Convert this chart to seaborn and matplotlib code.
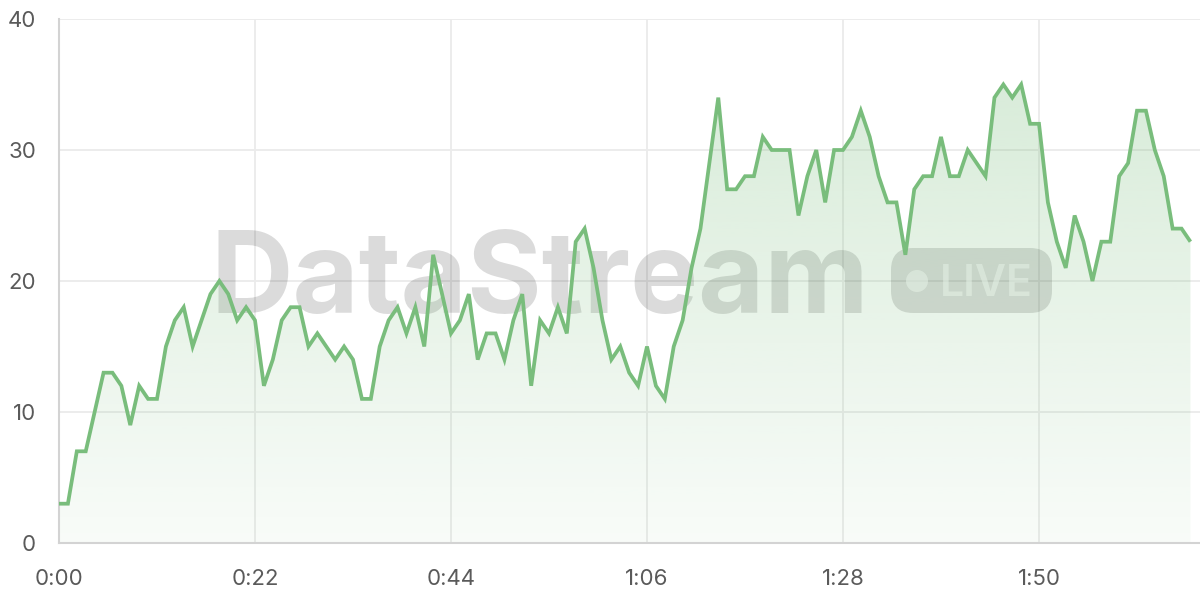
import numpy as np
import pandas as pd
import seaborn as sns
import matplotlib
matplotlib.use("Agg")
import matplotlib.pyplot as plt
from matplotlib.patches import FancyBboxPatch, Circle
from matplotlib.transforms import IdentityTransform
from matplotlib.colors import to_rgb

# ---------------- data ----------------
values = [3, 3, 7, 7, 10, 13, 13, 12, 9, 12, 11, 11, 15, 17, 18, 15, 17, 19, 20, 19,
          17, 18, 17, 12, 14, 17, 18, 18, 15, 16, 15, 14, 15, 14, 11, 11, 15, 17, 18, 16,
          18, 15, 22, 19, 16, 17, 19, 14, 16, 16, 14, 17, 19, 12, 17, 16, 18, 16, 23, 24,
          21, 17, 14, 15, 13, 12, 15, 12, 11, 15, 17, 21, 24, 29, 34, 27, 27, 28, 28, 31,
          30, 30, 30, 25, 28, 30, 26, 30, 30, 31, 33, 31, 28, 26, 26, 22, 27, 28, 28, 31,
          28, 28, 30, 29, 28, 34, 35, 34, 35, 32, 32, 26, 23, 21, 25, 23, 20, 23, 23, 28,
          29, 33, 33, 30, 28, 24, 24, 23]
seconds = list(range(len(values)))
x_ticks = [0, 22, 44, 66, 88, 110]
x_tick_labels = ["0:00", "0:22", "0:44", "1:06", "1:28", "1:50"]
y_ticks = [0, 10, 20, 30, 40]
y_tick_labels = ["0", "10", "20", "30", "40"]
watermark_text = "DataStream"
badge_text = "LIVE"

df = pd.DataFrame({"second": seconds, "value": values})

# ---------------- style ----------------
sns.set_theme(style="white")
plt.rcParams['font.family'] = ['Inter', 'DejaVu Sans']

LINE = "#79bd7c"
GRID = "#ebebeb"
AXIS = "#d3d3d3"
TICKTXT = "#5a5a5a"

W, H = 1200, 600
fig = plt.figure(figsize=(12, 6), dpi=100)
fig.patch.set_facecolor("white")
L, R, T, B = 59, 1200, 19, 543
ax = fig.add_axes([L / W, (H - B) / H, (R - L) / W, (B - T) / H])
ax.set_facecolor("white")

px_per_s = (1039 - 59) / 110.0
ax.set_xlim(0, (R - L) / px_per_s)
ax.set_ylim(0, 40)

# grid / spines / ticks
ax.set_axisbelow(True)
ax.grid(True, color=GRID, lw=1.3)
for s in ["top", "right"]:
    ax.spines[s].set_visible(False)
for s in ["left", "bottom"]:
    ax.spines[s].set_color(AXIS)
    ax.spines[s].set_linewidth(1.5)
ax.set_xticks(x_ticks)
ax.set_xticklabels(x_tick_labels)
ax.set_yticks(y_ticks)
ax.set_yticklabels(y_tick_labels)
ax.tick_params(axis="both", length=11.5, width=1.3, color=GRID,
               labelcolor=TICKTXT, labelsize=16)
ax.tick_params(axis="x", pad=7)
ax.tick_params(axis="y", pad=5)

# ---------------- watermark ----------------
ident = IdentityTransform()
wm = ax.text(210, H - 313, watermark_text, transform=ident, fontsize=80,
             fontweight="bold", color="black", alpha=0.14, ha="left",
             va="baseline", zorder=1, clip_on=False)
fig.canvas.draw()
bb = wm.get_window_extent()
wm.set_fontsize(80 * 660 / bb.width)

badge = FancyBboxPatch((891, H - 313), 161, 65,
                       boxstyle="round,pad=0,rounding_size=22",
                       transform=ident, facecolor="black", edgecolor="none",
                       alpha=0.14, zorder=1, clip_on=False)
ax.add_artist(badge)
dot = Circle((917, H - 281), 11, transform=ident, facecolor="white",
             edgecolor="none", alpha=0.55, zorder=1.1, clip_on=False)
ax.add_artist(dot)
lv = ax.text(940, H - 296, badge_text, transform=ident, fontsize=32,
             fontweight="semibold", color="white", alpha=0.55, ha="left",
             va="baseline", zorder=1.1, clip_on=False)
fig.canvas.draw()
bb = lv.get_window_extent()
lv.set_fontsize(32 * 93 / bb.width)

# ---------------- gradient fill ----------------
poly = ax.fill_between(df["second"], df["value"], 0, facecolor="none",
                       edgecolor="none", zorder=2)
rgb = np.array(to_rgb(LINE))
alphas = np.linspace(0.05, 0.32, 256)
grad = np.zeros((256, 1, 4))
grad[:, 0, :3] = rgb
grad[:, 0, 3] = alphas
im = ax.imshow(grad, extent=[0, max(seconds), 0, 40], origin="lower",
               aspect="auto", zorder=2, interpolation="bilinear")
im.set_clip_path(poly.get_paths()[0], transform=ax.transData)
ax.set_xlim(0, (R - L) / px_per_s)
ax.set_ylim(0, 40)

# ---------------- line ----------------
sns.lineplot(data=df, x="second", y="value", ax=ax, color=LINE, lw=2.7,
             zorder=3, solid_joinstyle="miter", solid_capstyle="butt")
ax.set_xlabel("")
ax.set_ylabel("")

fig.savefig("out.png", dpi=100, facecolor="white")
